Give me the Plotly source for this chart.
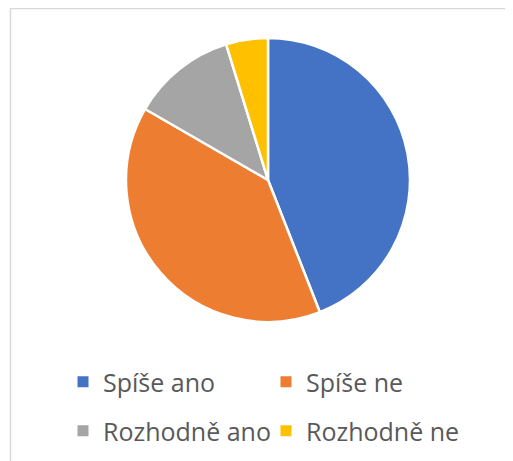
import plotly.graph_objects as go

# data
odpovedi = ["Spíše ano", "Spíše ne", "Rozhodně ano", "Rozhodně ne"]
pocty = [37, 33, 10, 4]
barvy = ["#4472C4", "#ED7D31", "#A5A5A5", "#FFC000"]

# stranka ma okraj 8 px, proto je graf mensi
W, H = 505, 453

fig = go.Figure()

fig.add_trace(go.Pie(
    labels=odpovedi,
    values=pocty,
    sort=False,
    direction="clockwise",
    rotation=0,
    textinfo="none",
    hoverinfo="label+value+percent",
    showlegend=False,
    marker=dict(colors=barvy, line=dict(color="white", width=2.5)),
    domain=dict(x=[118 / W, 402 / W],
                y=[1 - 314 / H, 1 - 30 / H]),
))

# legenda ve dvou radcich (kazdy radek = vlastni legenda)
for i, (lab, col) in enumerate(zip(odpovedi, barvy)):
    fig.add_trace(go.Scatter(
        x=[None], y=[None],
        mode="markers",
        name=lab,
        marker=dict(symbol="square", size=11, color=col),
        legend="legend" if i < 2 else "legend2",
        hoverinfo="skip",
    ))

# ramecek grafu (jen horni a leva hrana je videt)
fig.add_shape(type="line", xref="paper", yref="paper",
              x0=2.5 / W, x1=1, y0=1 - 0.5 / H, y1=1 - 0.5 / H,
              line=dict(color="#d9d9d9", width=1.5))
fig.add_shape(type="line", xref="paper", yref="paper",
              x0=2.5 / W, x1=2.5 / W, y0=0, y1=1,
              line=dict(color="#d9d9d9", width=1.5))

leg = dict(
    orientation="h",
    xanchor="left",
    yanchor="top",
    entrywidth=158,
    entrywidthmode="pixels",
    font=dict(family="Open Sans", size=25, color="#595959"),
    bgcolor="rgba(0,0,0,0)",
)

fig.update_layout(
    width=W,
    height=H,
    margin=dict(l=0, r=0, t=0, b=0),
    paper_bgcolor="white",
    plot_bgcolor="white",
    showlegend=True,
    xaxis=dict(visible=False),
    yaxis=dict(visible=False),
    legend=dict(leg, x=55 / W, y=1 - 351 / H),
    legend2=dict(leg, x=55 / W, y=1 - 400 / H),
)

fig.write_html("out.html")
